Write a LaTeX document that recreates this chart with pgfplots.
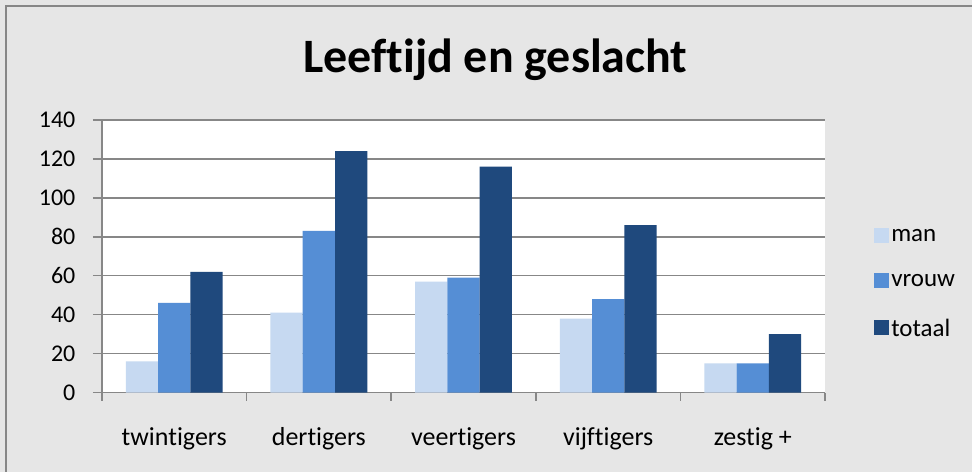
\documentclass[border=0pt]{standalone}
\usepackage{fontspec}
\setmainfont{Carlito}[Ligatures=NoCommon]
\usepackage{pgfplots}
\pgfplotsset{compat=1.18}
\definecolor{bgray}{HTML}{E6E6E6}
\definecolor{lgray}{HTML}{878787}
\definecolor{cman}{HTML}{C6D9F1}
\definecolor{cvrouw}{HTML}{558ED5}
\definecolor{ctotaal}{HTML}{1F497D}
\begin{document}
\begin{tikzpicture}[x=1pt,y=1pt]
\fill[bgray] (0,0) rectangle (973,472);
\draw[line width=2pt, lgray] (6,0) -- (6,466) -- (973,466);
\node[font=\fontsize{48}{56}\selectfont\bfseries] at (496,412) {Leeftijd en geslacht};
\begin{axis}[
    at={(102pt,79pt)}, anchor=south west,
    width=724pt, height=273pt, scale only axis,
    axis background/.style={fill=white},
    ybar=0pt, bar width=32.3pt,
    xmin=0.5, xmax=5.5, ymin=0, ymax=140,
    ytick={0,20,...,140},
    xtick={1,2,3,4,5},
    xticklabels={twintigers, dertigers, veertigers, vijftigers, zestig +},
    major x tick style={draw=none},
    extra x ticks={0.5,1.5,2.5,3.5,4.5,5.5},
    extra x tick labels={},
    extra x tick style={major tick length=8pt, tick align=outside, major x tick style={draw=lgray, line width=1.5pt}},
    axis x line*=bottom, axis y line*=left,
    axis line style={lgray, line width=1.5pt, -},
    ytick style={lgray, line width=1.5pt},
    major tick length=9pt, tick align=outside,
    ymajorgrids, grid style={lgray, line width=1.5pt},
    yticklabel style={font=\fontsize{24}{28}\selectfont, xshift=-14pt},
    xticklabel style={font=\fontsize{26}{30}\selectfont, anchor=base, yshift=-44pt},
    /pgf/number format/assume math mode=true,
    legend style={at={(1,0.40)}, anchor=west, xshift=46pt, draw=none, fill=none,
        font=\fontsize{25}{29}\selectfont, row sep=27pt, cells={anchor=west}},
    legend image code/.code={\fill[#1] (0pt,-7pt) rectangle (15pt,8pt);},
]
\addplot[fill=cman, draw=none] coordinates {(1,16) (2,41) (3,57) (4,38) (5,15)};
\addplot[fill=cvrouw, draw=none] coordinates {(1,46) (2,83) (3,59) (4,48) (5,15)};
\addplot[fill=ctotaal, draw=none] coordinates {(1,62) (2,124) (3,116) (4,86) (5,30)};
\legend{man, vrouw, totaal}
\end{axis}
\end{tikzpicture}
\end{document}
